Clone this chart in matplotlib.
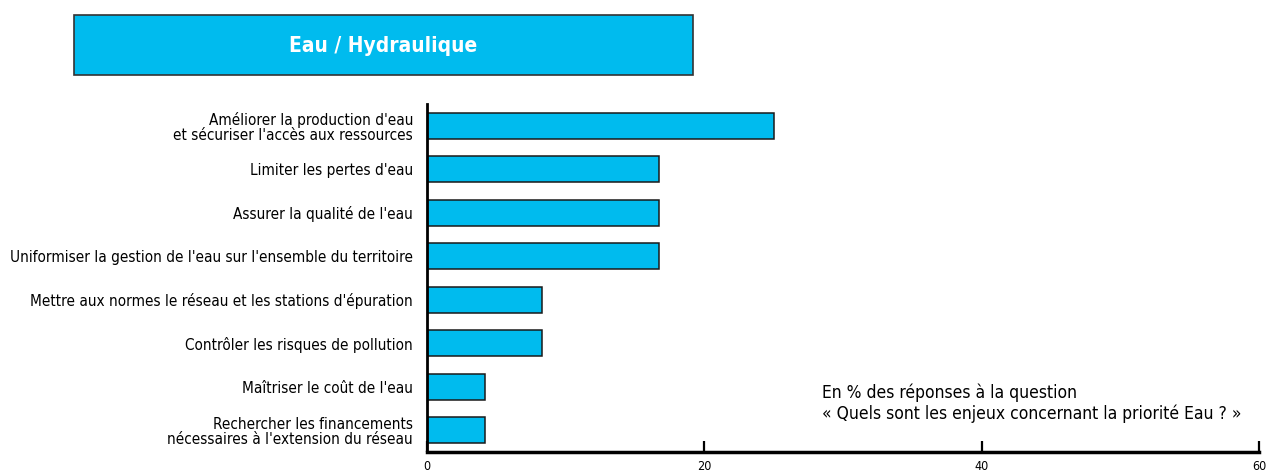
import matplotlib
matplotlib.use("Agg")
import matplotlib.pyplot as plt
from matplotlib.patches import Rectangle

plt.rcParams['font.family'] = ['DejaVu Sans']
plt.rcParams['font.stretch'] = 'condensed'

categories = [
    "Améliorer la production d'eau\net sécuriser l'accès aux ressources",
    "Limiter les pertes d'eau",
    "Assurer la qualité de l'eau",
    "Uniformiser la gestion de l'eau sur l'ensemble du territoire",
    "Mettre aux normes le réseau et les stations d'épuration",
    "Contrôler les risques de pollution",
    "Maîtriser le coût de l'eau",
    "Rechercher les financements\nnécessaires à l'extension du réseau",
]
values = [25.0, 16.7, 16.7, 16.7, 8.3, 8.3, 4.2, 4.2]
xticks = [0, 20, 40, 60]
title = "Eau / Hydraulique"
note = "En % des réponses à la question\n« Quels sont les enjeux concernant la priorité Eau ? »"

cyan = "#00BBEE"
W, H = 1266, 474
fig = plt.figure(figsize=(W / 100, H / 100), dpi=100)

# title banner
fig.patches.append(Rectangle((74 / W, 1 - 75 / H), (693 - 74) / W, 60 / H,
                             transform=fig.transFigure, facecolor=cyan,
                             edgecolor="#333333", linewidth=1.2))
fig.text((74 + 693) / 2 / W, 1 - 46 / H, title, color="white", fontsize=15,
         fontweight="bold", ha="center", va="center")

ax = fig.add_axes([427 / W, 1 - 452 / H, (1259 - 427) / W, (452 - 104) / H])
y = list(range(len(categories)))
ax.barh(y, values, height=0.6, color=cyan, edgecolor="#1a1a1a", linewidth=1.1)
ax.set_ylim(len(categories) - 0.5, -0.5)
ax.set_xlim(0, 60)

ax.set_yticks(y)
ax.set_yticklabels(categories, fontsize=11, linespacing=1.05)
ax.tick_params(axis="y", length=0, pad=10)
ax.set_xticks(xticks)
ax.set_xticklabels([str(t) for t in xticks], fontsize=9)
ax.tick_params(axis="x", direction="in", length=8, width=1.6, pad=6)

for side in ("top", "right"):
    ax.spines[side].set_visible(False)
ax.spines["bottom"].set_linewidth(2.5)
ax.spines["left"].set_linewidth(2)

fig.text(822 / W, 1 - 403 / H, note, fontsize=12.5, ha="left", va="center",
         linespacing=1.15)

fig.savefig("out.png", dpi=100)
